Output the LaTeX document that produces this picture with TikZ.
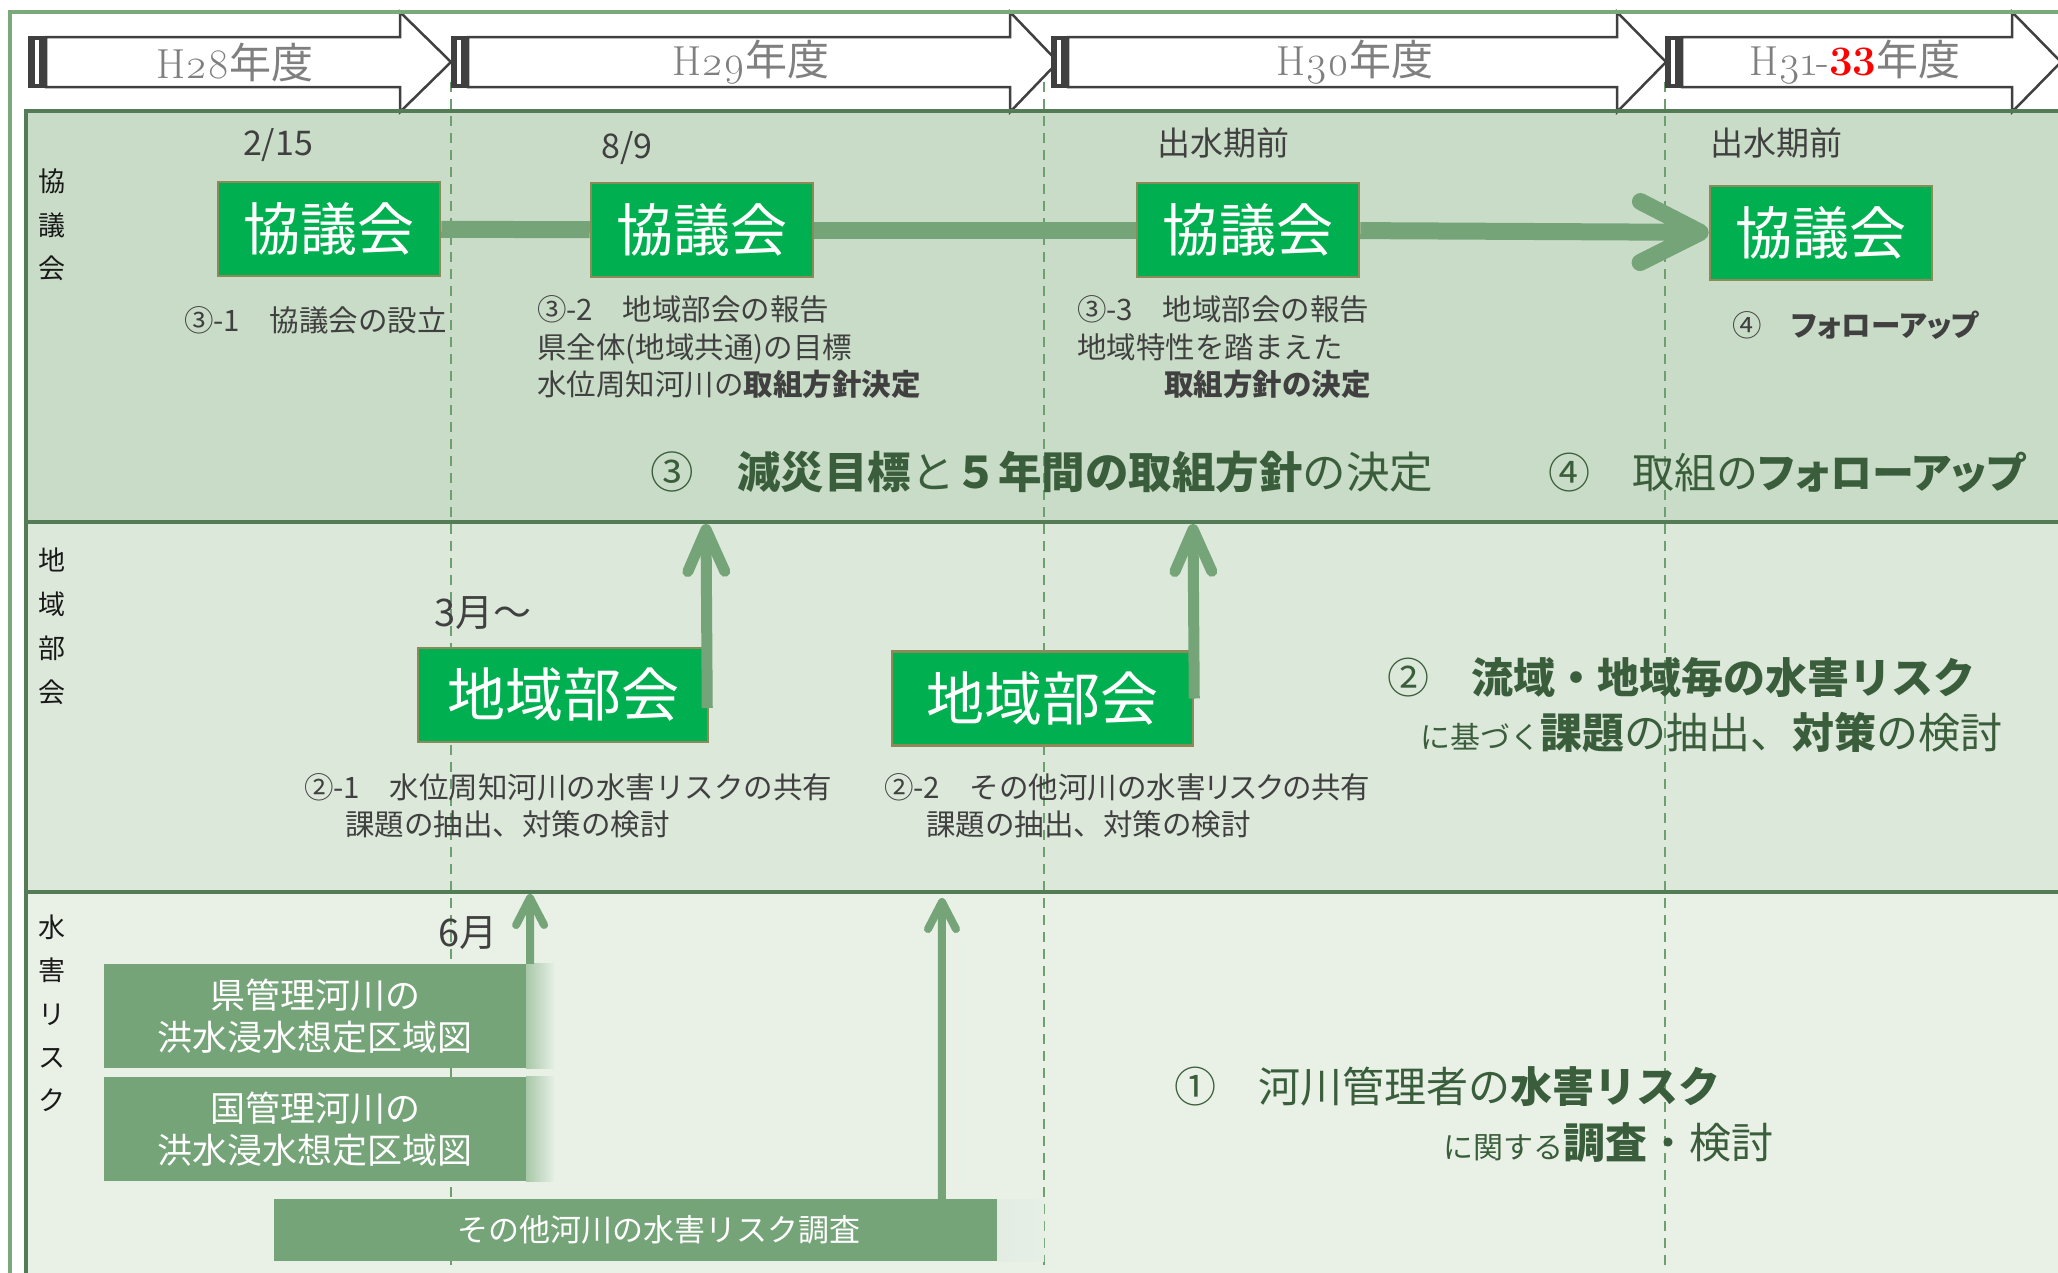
\documentclass[tikz,border=0pt]{standalone}
\usepackage{fontspec}
\newfontfamily\jp{Noto Sans CJK JP}
\newfontfamily\yr{Latin Modern Roman}[Numbers=OldStyle]
\usetikzlibrary{arrows.meta}
\definecolor{bargreen}{HTML}{75A478}
\definecolor{boxgreen}{HTML}{00B050}
\definecolor{boxedge}{HTML}{8C8A58}
\definecolor{bandA}{HTML}{C9DCC7}
\definecolor{bandB}{HTML}{DCE8DA}
\definecolor{bandC}{HTML}{E9F1E7}
\definecolor{bandline}{HTML}{527B56}
\definecolor{framegreen}{HTML}{7AAA7B}
\definecolor{darktext}{HTML}{404040}
\definecolor{bigtext}{HTML}{3A5E3B}
\definecolor{dashgreen}{HTML}{6E9F70}
\definecolor{yeargray}{HTML}{7F7F7F}
\definecolor{edgegray}{HTML}{404040}
\definecolor{fadeL}{HTML}{A8C8A8}
\definecolor{fadeR}{HTML}{E6EFE6}
\newcommand\fs[2]{\fontsize{#1}{#2}\selectfont}
\newcommand\palt{\addfontfeatures{RawFeature=+palt}}
\begin{document}
\begin{tikzpicture}[x=1pt,y=-1pt,
  yarrow/.style={fill=white, draw=edgegray, line width=2.5pt, line join=miter},
  yearlabel/.style={inner sep=0pt, text=yeargray, font=\fs{42}{46}},
  meeting/.style={rectangle, fill=boxgreen, draw=boxedge, line width=2.5pt, minimum width=222pt, minimum height=94pt, inner sep=0pt, text=white, font=\jp\fs{57}{60}},
  bukai/.style={meeting, minimum width=290pt, font=\jp\fs{58}{60}},
  riskbox/.style={rectangle, fill=bargreen, minimum width=422pt, minimum height=104pt, inner sep=0pt, text=white, align=center, font=\jp\fs{35}{42}},
  fade/.style={left color=fadeL, right color=fadeR},
  desc/.style={anchor=west, inner sep=0pt, text=darktext, align=left, font=\jp\fs{29.5}{37.5}},
  bigtxt/.style={anchor=west, inner sep=0pt, text=bigtext, font=\jp\fs{42}{50}},
  datelbl/.style={inner sep=0pt, text=darktext, font=\jp\fs{34}{40}},
  rowlbl/.style={inner sep=0pt, align=center, text=black!90, font=\jp\fs{27}{43.5}},
  mainbar/.style={draw=bargreen, line width=17pt},
  mainarrow/.style={mainbar, -{Straight Barb[round,length=60pt,width=61pt]}},
  uparrow/.style={draw=bargreen, line width=11pt, -{Straight Barb[round,length=42pt,width=37pt]}},
  thinup/.style={draw=bargreen, line width=8pt, -{Straight Barb[round,length=27pt,width=28pt]}},
  dashv/.style={draw=dashgreen, line width=1.6pt, dash pattern=on 10pt off 7pt}
]
\useasboundingbox (0,0) rectangle (2058,1272);
\fill[white] (0,0) rectangle (2058,1272);
% bands
\fill[bandA] (26,111) rectangle (2070,522);
\fill[bandB] (26,522) rectangle (2070,892);
\fill[bandC] (26,892) rectangle (2070,1290);
% dashed year separators
\foreach \x in {451,1044,1665} \draw[dashv] (\x,82) -- (\x,1265);
% year arrows
\filldraw[yarrow] (46,37) -- (400,37) -- (400,12) -- (451,62) -- (400,112) -- (400,87) -- (46,87) -- cycle;
\fill[edgegray] (28,36) rectangle (46,88);
\fill[white] (35,40) rectangle (39,84);
\filldraw[yarrow] (468,37) -- (1010,37) -- (1010,12) -- (1058,62) -- (1010,112) -- (1010,87) -- (468,87) -- cycle;
\fill[edgegray] (451,36) rectangle (468,88);
\fill[white] (457,40) rectangle (461,84);
\filldraw[yarrow] (1068,37) -- (1617,37) -- (1617,12) -- (1666,62) -- (1617,112) -- (1617,87) -- (1068,87) -- cycle;
\fill[edgegray] (1051,36) rectangle (1068,88);
\fill[white] (1057,40) rectangle (1061,84);
\filldraw[yarrow] (1682,37) -- (2012,37) -- (2012,12) -- (2061,62) -- (2012,112) -- (2012,87) -- (1682,87) -- cycle;
\fill[edgegray] (1665,36) rectangle (1682,88);
\fill[white] (1671,40) rectangle (1675,84);
% band lines and frame
\draw[bandline, line width=4pt] (26,1290) -- (26,111) -- (2070,111);
\draw[bandline, line width=4pt] (26,522) -- (2070,522);
\draw[bandline, line width=4pt] (26,892) -- (2070,892);
\draw[framegreen, line width=4.5pt] (10,1290) -- (10,12) -- (2070,12);
% year labels
\node[yearlabel] (y1) at (235,62) {\yr H28\jp 年度};
\node[yearlabel] (y2) at (751,62) {\yr H29\jp 年度};
\node[yearlabel] (y3) at (1355,62) {\yr H30\jp 年度};
\node[yearlabel] (y4) at (1855,62) {\yr H31-{\rmfamily\bfseries\color{red}33}\jp 年度};
% row labels
\node[rowlbl] (r1) at (52,225) {協\\議\\会};
\node[rowlbl, font=\jp\fs{27}{44}] (r2) at (52,626) {地\\域\\部\\会};
\node[rowlbl, font=\jp\fs{27}{43.3}] (r3) at (52,1013.5) {水\\害\\リ\\ス\\ク};
% dates
\node[datelbl] (t1) at (278,145) {2/15};
\node[datelbl] (t2) at (627,148) {8/9};
\node[datelbl, font=\jp\fs{33}{40}] (t3) at (1223,143) {出水期前};
\node[datelbl, font=\jp\fs{33}{40}] (t4) at (1776,143) {出水期前};
\node[datelbl, font=\jp\fs{38}{42}] (t5) at (483,613) {3月～};
\node[datelbl, font=\jp\fs{38}{42}] (t6) at (468,933) {6月};
% council meetings
\node[meeting] (b1) at (329,229) {協議会};
\node[meeting] (b2) at (702,230) {協議会};
\node[meeting] (b3) at (1248,230) {協議会};
\node[meeting] (b4) at (1821,233) {協議会};
\draw[mainbar] (b1) -- (b2);
\draw[mainbar] (b2) -- (b3);
\draw[mainarrow] (b3) -- (b4);
% regional meetings
\node[bukai] (c1) at (563,695) {地域部会};
\node[bukai, minimum width=301pt] (c2) at (1042.5,698.5) {地域部会};
\coordinate (e1) at (706,524);
\coordinate (e2) at (1193,524);
\draw[uparrow] ([xshift=-2pt,yshift=-13pt]c1.east) -- (e1);
\draw[uparrow] (c2.east) -- (e2);
% risk boxes
\node[riskbox] (d1) at (315,1016) {県管理河川の\\洪水浸水想定区域図};
\shade[fade] (d1.north east) rectangle ([xshift=28pt]d1.south east);
\node[riskbox] (d2) at (315,1129) {国管理河川の\\洪水浸水想定区域図};
\shade[fade] (d2.north east) rectangle ([xshift=28pt]d2.south east);
\node[riskbox, minimum width=770pt, minimum height=62pt, font=\jp\fs{31}{36},
  path picture={\shade[fade] ([xshift=-47pt]path picture bounding box.north east) rectangle (path picture bounding box.south east);}] (d3) at (659,1230) {その他河川の水害リスク調査};
\coordinate (e3) at (530,894);
\coordinate (e4) at (942,898);
\draw[thinup] ([xshift=4pt]d1.north east) -- (e3);
\draw[thinup] ([xshift=668pt]d3.north west) -- (e4);
% descriptions
\node[desc] (n31) at (184,320) {③-1　協議会の設立};
\node[desc] (n32) at (537,347.5) {③-2　地域部会の報告\\県全体(地域共通)の目標\\水位周知河川の\textbf{取組方針決定}};
\node[desc] (n33) at (1077,347.5) {③-3　地域部会の報告\\地域特性を踏まえた\\\hspace*{87pt}\textbf{取組方針の決定}};
\node[desc] (n4) at (1732,325) {④　\textbf{\palt フォローアップ}};
\node[desc] (n21) at (304,806) {②-1　水位周知河川の水害リスクの共有\\\hspace*{41pt}課題の抽出、対策の検討};
\node[desc] (n22) at (884,806) {②-2　その他河川の\palt 水害リスクの共有\\\hspace*{42pt}課題の抽出、対策の検討};
% big headings
\node[bigtxt, font=\jp\fs{43.5}{50}] (g3) at (650,472) {③　\textbf{減災目標}と\textbf{５年間の取組方針}の決定};
\node[bigtxt] (g4) at (1548,472) {④　取組の\textbf{\palt フォローアップ}};
\node[bigtxt] (g2a) at (1387,678) {②　\textbf{流域・地域毎の水害リスク}};
\node[bigtxt] (g2b) at (1420,733) {{\fs{30}{36}に基づく}\textbf{課題}の抽出、\textbf{対策}の検討};
\node[bigtxt] (g1a) at (1174,1087) {①　河川管理者の\textbf{水害リスク}};
\node[bigtxt] (g1b) at (1443,1143) {{\fs{30}{36}に関する}\textbf{調査}・検討};
\end{tikzpicture}
\end{document}
